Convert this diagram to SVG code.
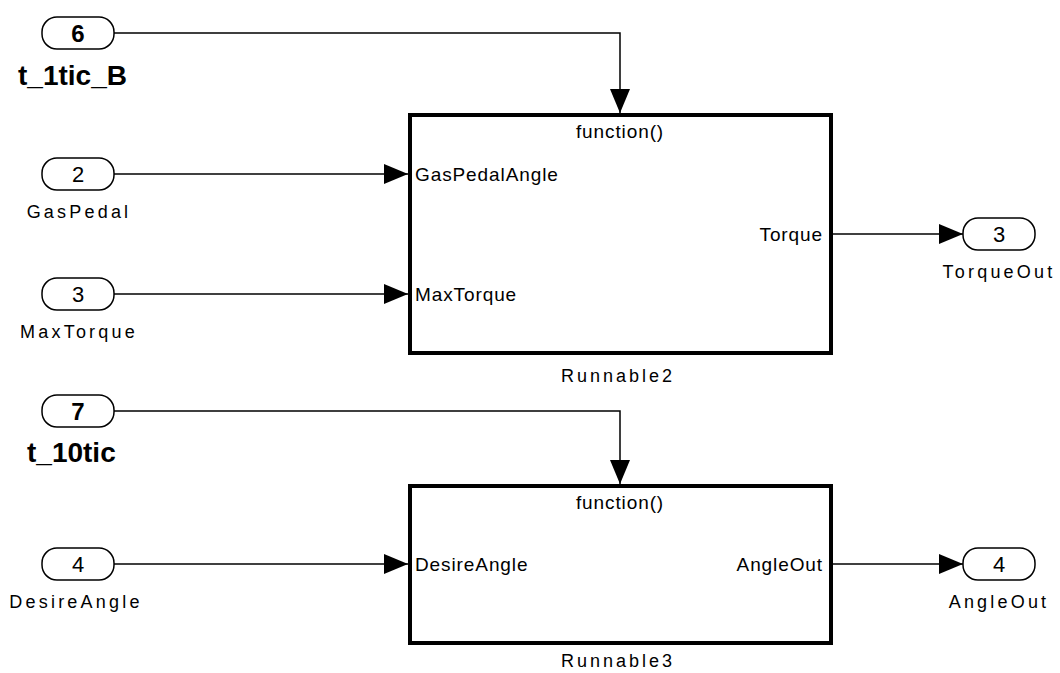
<svg xmlns="http://www.w3.org/2000/svg" width="1060" height="673" viewBox="0 0 1060 673">
  <style>
    .port { fill: #fff; stroke: #000; stroke-width: 1.5; }
    .num { font-family: "Liberation Sans", Arial, sans-serif; font-size: 22px; text-anchor: middle; }
    .numb { font-family: "Liberation Sans", Arial, sans-serif; font-size: 24px; font-weight: bold; text-anchor: middle; }
    .lbl { font-family: "Liberation Sans", Arial, sans-serif; font-size: 18px; letter-spacing: 3.2px; text-anchor: middle; }
    .lblb { font-family: "Liberation Sans", Arial, sans-serif; font-size: 28px; font-weight: bold; }
    .blk { fill: #fff; stroke: #000; stroke-width: 4; }
    .in { font-family: "Liberation Sans", Arial, sans-serif; font-size: 19px; letter-spacing: 0.9px; }
    .name { font-family: "Liberation Sans", Arial, sans-serif; font-size: 18px; letter-spacing: 3px; text-anchor: middle; }
    .wire { fill: none; stroke: #000; stroke-width: 1.5; }
  </style>
  <defs>
    <marker id="arrow" viewBox="0 0 24 20" refX="24" refY="10" markerWidth="24" markerHeight="20" markerUnits="userSpaceOnUse" orient="auto">
      <path d="M0,0 L24,10 L0,20 Z" fill="#000"/>
    </marker>
  </defs>

  <rect width="1060" height="673" fill="#fff"/>

  <!-- signal lines -->
  <g id="connectors">
    <path class="wire" d="M114,33 H620 V113" marker-end="url(#arrow)"/>
    <path class="wire" d="M114,174 H408" marker-end="url(#arrow)"/>
    <path class="wire" d="M114,294 H408" marker-end="url(#arrow)"/>
    <path class="wire" d="M832,234 H963" marker-end="url(#arrow)"/>
    <path class="wire" d="M114,411 H620 V484" marker-end="url(#arrow)"/>
    <path class="wire" d="M114,564 H408" marker-end="url(#arrow)"/>
    <path class="wire" d="M832,564 H963" marker-end="url(#arrow)"/>
  </g>

  <!-- trigger inport 6 -->
  <g id="in6">
    <rect class="port" x="42" y="17" width="72" height="32" rx="15"/>
    <text class="numb" x="78" y="42">6</text>
    <text class="lblb" x="18" y="85">t_1tic_B</text>
  </g>

  <g id="in2">
    <rect class="port" x="42" y="158" width="72" height="32" rx="15"/>
    <text class="num" x="78" y="182">2</text>
    <text class="lbl" x="79" y="218">GasPedal</text>
  </g>

  <g id="in3">
    <rect class="port" x="42" y="278" width="72" height="32" rx="15"/>
    <text class="num" x="78" y="302">3</text>
    <text class="lbl" x="79" y="338">MaxTorque</text>
  </g>

  <g id="runnable2">
    <rect class="blk" x="410" y="115" width="421" height="238"/>
    <text class="in" x="620" y="138" text-anchor="middle">function()</text>
    <text class="in" x="415" y="181">GasPedalAngle</text>
    <text class="in" x="415" y="301">MaxTorque</text>
    <text class="in" x="823" y="241" text-anchor="end">Torque</text>
    <text class="name" x="618" y="382">Runnable2</text>
  </g>

  <g id="out3">
    <rect class="port" x="963" y="218" width="72" height="32" rx="15"/>
    <text class="num" x="999" y="242">3</text>
    <text class="lbl" x="999" y="278">TorqueOut</text>
  </g>

  <!-- trigger inport 7 -->
  <g id="in7">
    <rect class="port" x="42" y="395" width="72" height="32" rx="15"/>
    <text class="numb" x="78" y="420">7</text>
    <text class="lblb" x="27" y="462">t_10tic</text>
  </g>

  <g id="in4">
    <rect class="port" x="42" y="548" width="72" height="32" rx="15"/>
    <text class="num" x="78" y="572">4</text>
    <text class="lbl" x="76" y="608">DesireAngle</text>
  </g>

  <g id="runnable3">
    <rect class="blk" x="410" y="486" width="421" height="157"/>
    <text class="in" x="620" y="509" text-anchor="middle">function()</text>
    <text class="in" x="415" y="571">DesireAngle</text>
    <text class="in" x="823" y="571" text-anchor="end">AngleOut</text>
    <text class="name" x="618" y="667">Runnable3</text>
  </g>

  <g id="out4">
    <rect class="port" x="963" y="548" width="72" height="32" rx="15"/>
    <text class="num" x="999" y="572">4</text>
    <text class="lbl" x="999" y="608">AngleOut</text>
  </g>
</svg>
